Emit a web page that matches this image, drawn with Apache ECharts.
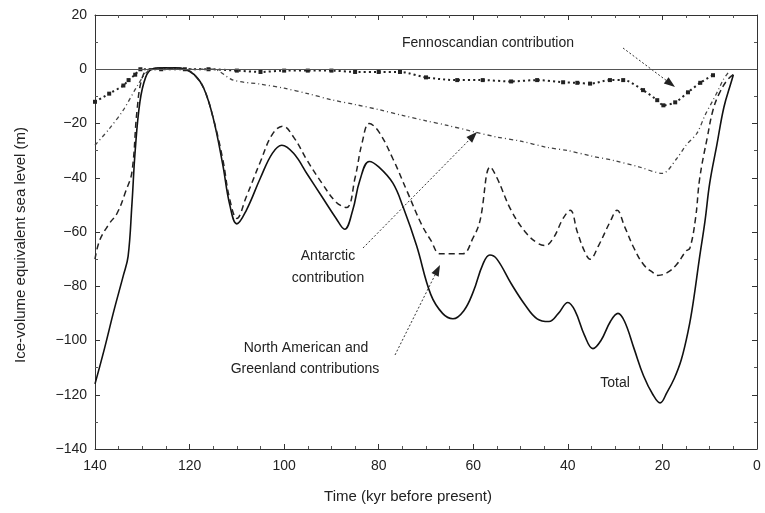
<!DOCTYPE html>
<html>
<head>
<meta charset="utf-8">
<script src="https://cdn.jsdelivr.net/npm/echarts@6/dist/echarts.min.js"></script>
<style>
  html, body { margin: 0; padding: 0; background: #fff; }
  #main { width: 765px; height: 513px; }
</style>
</head>
<body>
<div id="main"></div>
<script>
// time in kyr before present, level in m (ice-volume equivalent sea level)
var totalAge = [140, 138, 136, 134, 133, 132.2, 131.5, 130.5, 129.3, 128, 126, 123, 121, 119, 117, 115, 113, 111.5, 110, 108, 105, 102.5, 100.5, 98, 95, 92, 89, 87.2, 85.5, 84, 82, 80, 77, 74.8, 72, 69, 66.5, 64.3, 62, 60, 58, 56.5, 55, 52, 49, 46.5, 44, 42, 40, 38.5, 36.5, 34.7, 33, 31, 29.4, 28, 26, 24, 22, 20.5, 19, 17.5, 16, 14.5, 13.5, 12.2, 11, 10, 8.5, 7, 5.5, 5];
var totalLevel = [-116, -103, -89, -76, -69, -50, -30, -12, -3, 0, 0.5, 0.5, 0, -2, -7, -18, -35, -50, -57, -52, -40, -31, -28, -31, -39, -47, -55, -59, -52, -41, -34, -36, -42, -51, -65, -83, -90, -92, -89, -82, -72, -68.5, -70, -79, -87, -92, -93, -90, -86, -89, -98, -103, -100, -93, -90, -93, -103, -113, -120, -123, -119, -114, -107, -96, -86, -70, -56, -42, -28, -14, -5, -2];

var naAge = [140, 139, 137, 135.3, 133.5, 132.2, 131.1, 130, 128.5, 124, 121, 119, 117, 115, 113, 111.5, 110, 108, 105, 102.5, 100.3, 98, 95, 92, 89, 86.8, 85, 83.5, 82, 80, 77, 74, 71, 69, 67, 64, 62.2, 60, 58.6, 56.4, 55, 52, 49, 46.5, 44.8, 43, 41, 39.5, 38, 36.5, 35.3, 33.5, 31, 29.6, 28, 26, 24, 22, 21, 19, 17, 15, 14.2, 13, 12.1, 10.5, 9.3, 8, 6.3, 5];
var naLevel = [-70, -63, -57, -53, -45, -38, -15, -3, 0, 0.5, 0, -2, -7, -18, -33, -48, -55, -47, -34, -24, -21, -25, -34, -42, -49, -51, -40, -27, -20, -23, -33, -45, -57, -63, -68, -68, -68, -62, -56, -36, -40, -52, -60, -64, -65, -62, -55, -52, -60, -67, -70, -65, -56, -52, -58, -66, -72, -75, -76, -75, -72, -67, -66, -55, -40, -25, -15, -9, -4, -2];

var antAge = [140, 137, 134, 131, 129, 127, 120, 115, 110.8, 105, 100, 95, 89.6, 85, 79.7, 75, 70, 65.5, 60, 55, 50, 44.4, 40, 35, 30.4, 25, 20, 17, 15, 12.7, 11, 9.3, 8, 7.2, 6];
var antLevel = [-28, -22, -15, -6, -1, 0, 0, 0, -4, -5.5, -7, -9, -11.4, -13, -15, -17, -19, -20.7, -23, -25, -26.5, -28.8, -30, -32, -33.6, -36, -38.4, -33, -28, -23.6, -17, -11.4, -7, -4, -1];

var fenAge = [140, 137, 134, 132.9, 131.5, 130.4, 126, 121, 116, 110, 105, 100, 95, 90, 85, 80, 75.5, 70, 63.4, 58, 52, 46.5, 41, 38, 35.3, 31.1, 28.3, 24.1, 21.1, 19.8, 17.3, 14.6, 12, 9.3];
var fenLevel = [-12, -9, -6, -4, -2, 0, 0, 0, 0, -0.5, -1, -0.5, -0.5, -0.5, -1, -1, -1, -3, -4, -4, -4.5, -4, -4.8, -5, -5.3, -4, -4, -7.7, -11.4, -13.3, -12.2, -8.5, -5, -2.2];

var yTicks = [20, 0, -20, -40, -60, -80, -100, -120, -140];

function pairs(xs, ys) {
  var out = [];
  for (var i = 0; i < xs.length; i++) out.push([xs[i], ys[i]]);
  return out;
}

// dotted annotation arrow with filled head
function arrow(x1, y1, x2, y2) {
  var a = Math.atan2(y2 - y1, x2 - x1);
  var L = 11, W = 4;
  var bx = x2 - L * Math.cos(a), by = y2 - L * Math.sin(a);
  return [
    {
      type: "line",
      shape: { x1: x1, y1: y1, x2: bx, y2: by },
      style: { stroke: "#333", lineWidth: 1, lineDash: [2, 2] },
    },
    {
      type: "polygon",
      shape: {
        points: [
          [x2, y2],
          [bx + W * Math.sin(a), by - W * Math.cos(a)],
          [bx - W * Math.sin(a), by + W * Math.cos(a)],
        ],
      },
      style: { fill: "#222" },
    },
  ];
}

var chart = echarts.init(document.getElementById("main"));

var txt = { fill: "#222", fontFamily: "Liberation Sans, Arial, sans-serif", fontSize: 14 };
function label(x, y, s, align) {
  return {
    type: "text",
    x: x,
    y: y,
    style: Object.assign({}, txt, { text: s, textAlign: align || "center", textVerticalAlign: "middle" }),
  };
}

var graphics = [
  label(402, 43, "Fennoscandian contribution", "left"),
  label(328, 256, "Antarctic"),
  label(328, 278, "contribution"),
  label(306, 348, "North American and"),
  label(305, 369, "Greenland contributions"),
  label(615, 383, "Total"),
  {
    type: "text",
    x: 408,
    y: 497,
    style: Object.assign({}, txt, { text: "Time (kyr before present)", fontSize: 15, textAlign: "center", textVerticalAlign: "middle" }),
  },
  {
    type: "text",
    x: 21,
    y: 245,
    rotation: Math.PI / 2,
    style: Object.assign({}, txt, { text: "Ice-volume equivalent sea level (m)", fontSize: 15, textAlign: "center", textVerticalAlign: "middle" }),
  },
]
  .concat(arrow(623, 48, 675, 87))
  .concat(arrow(363, 248, 477, 132))
  .concat(arrow(395, 355, 440, 265));

var axisCommon = {
  type: "value",
  axisLine: { show: true, onZero: false, lineStyle: { color: "#333", width: 1 } },
  axisTick: { show: true, inside: true, length: 5, lineStyle: { color: "#333" } },
  splitLine: { show: false },
};

var option = {
  backgroundColor: "#fff",
  animation: false,
  grid: { left: 95, right: 8, top: 15, bottom: 64 },
  xAxis: [
    Object.assign({}, axisCommon, {
      position: "bottom",
      inverse: true,
      min: 0,
      max: 140,
      interval: 20,
      minorTick: { show: true, splitNumber: 4, length: 3, lineStyle: { color: "#555" } },
      axisLabel: { color: "#222", fontSize: 14, margin: 10, fontFamily: "Liberation Sans, Arial, sans-serif" },
    }),
    Object.assign({}, axisCommon, {
      position: "top",
      inverse: true,
      min: 0,
      max: 140,
      interval: 20,
      minorTick: { show: true, splitNumber: 4, length: 3, lineStyle: { color: "#555" } },
      axisLabel: { show: false },
    }),
  ],
  yAxis: [
    Object.assign({}, axisCommon, {
      position: "left",
      min: yTicks[yTicks.length - 1],
      max: yTicks[0],
      interval: 20,
      minorTick: { show: true, splitNumber: 2, length: 3, lineStyle: { color: "#555" } },
      axisLabel: {
        color: "#222",
        fontSize: 14,
        margin: 8,
        fontFamily: "Liberation Sans, Arial, sans-serif",
        formatter: function (v) { return String(v).replace("-", "\u2212"); },
      },
    }),
    Object.assign({}, axisCommon, {
      position: "right",
      min: yTicks[yTicks.length - 1],
      max: yTicks[0],
      interval: 20,
      minorTick: { show: true, splitNumber: 2, length: 3, lineStyle: { color: "#555" } },
      axisLabel: { show: false },
    }),
  ],
  graphic: graphics,
  series: [
    {
      name: "Total",
      type: "line",
      data: pairs(totalAge, totalLevel),
      smooth: 0.4,
      showSymbol: false,
      lineStyle: { color: "#111", width: 1.6 },
      markLine: {
        silent: true,
        symbol: "none",
        label: { show: false },
        lineStyle: { color: "#555", width: 1, type: "solid" },
        data: [{ yAxis: 0 }],
      },
    },
    {
      name: "North American and Greenland",
      type: "line",
      data: pairs(naAge, naLevel),
      smooth: 0.4,
      showSymbol: false,
      lineStyle: { color: "#222", width: 1.5, type: [6, 4] },
    },
    {
      name: "Antarctic",
      type: "line",
      data: pairs(antAge, antLevel),
      smooth: 0.3,
      showSymbol: false,
      lineStyle: { color: "#444", width: 1.3, type: [4, 3, 1, 3] },
    },
    {
      name: "Fennoscandian",
      type: "line",
      data: pairs(fenAge, fenLevel),
      smooth: 0.3,
      symbol: "rect",
      symbolSize: 4,
      itemStyle: { color: "#222" },
      lineStyle: { color: "#222", width: 2, type: [2, 3] },
    },
  ],
};

chart.setOption(option);
</script>
</body>
</html>
